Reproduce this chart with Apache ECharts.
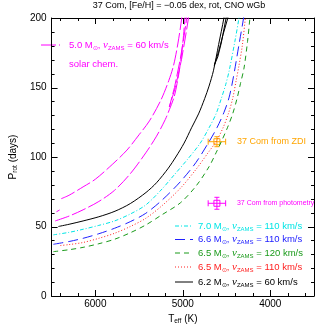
<!DOCTYPE html>
<html><head><meta charset="utf-8">
<script src="https://cdn.jsdelivr.net/npm/echarts@6/dist/echarts.min.js"></script>
<style>html,body{margin:0;padding:0;background:#fff}#c{width:332px;height:332px}</style>
</head><body><div id="c"></div>
<script>
const FONT = '"Liberation Sans", Arial, sans-serif';

// ---- data: [Teff (K), Prot (days)] ----
const black62_60 = [[6423,50],[6300,51.6],[6140,54],[5960,57],[5775,61],[5600,66.5],[5420,74.5],[5300,81.5],[5165,92],[5080,100],[4985,110],[4900,121],[4820,131],[4750,142],[4700,151],[4650,162],[4590,181],[4530,200],[4515,207]];
const black62_60_hook = [[4500,207],[4505,200],[4560,182],[4600,172],[4640,166],[4590,176],[4540,188],[4485,200],[4478,207]];
const cyan70_110 = [[6480,44],[6300,45.8],[6140,48],[5960,50.8],[5780,54],[5600,59],[5423,65.5],[5237,77],[5100,87],[4950,98],[4800,110],[4700,121],[4620,131],[4560,142],[4510,152],[4470,162],[4405,183],[4358,200],[4345,207]];
const blue66_110 = [[6480,37.2],[6300,39.2],[6140,41.5],[5960,44.8],[5781,48.7],[5600,53.5],[5423,59.5],[5237,69],[5028,82.2],[4850,96],[4700,111],[4610,121],[4530,132],[4470,143],[4420,158],[4360,180],[4305,200],[4290,207]];
const green65_120 = [[6480,31.9],[6300,33.3],[6140,35],[5960,37.6],[5781,40.8],[5600,45.5],[5423,51.1],[5237,58.5],[5028,67],[4850,79],[4700,93],[4620,103],[4560,111],[4490,121],[4430,131],[4380,142],[4340,153],[4300,164],[4260,183],[4233,200],[4225,207]];
const red65_110 = [[6400,36.3],[6300,37],[6140,38.5],[5960,41.5],[5781,45.1],[5600,50],[5423,55.9],[5237,65],[5028,77.5],[4850,91],[4700,104],[4620,111],[4540,121],[4480,131],[4430,142],[4390,155],[4360,165],[4320,180],[4285,200],[4275,207]];
const mag50_lower = [[6459,54],[6300,57.5],[6140,62],[5960,68],[5781,76],[5600,88],[5423,103],[5300,115],[5200,127],[5154,134],[5100,143],[5065,153],[5035,164],[5000,182],[4975,200],[4967,207]];
const mag50_upper = [[6390,70],[6300,72.5],[6140,78.5],[6000,84],[5800,95],[5638,105],[5500,116],[5381,126],[5250,141],[5160,155],[5105,166],[5055,182],[5012,200],[5003,207]];
const mag50_hook = [[4945,207],[4955,200],[4985,187],[5030,170],[5095,150],[5154,136],[5085,150],[5015,170],[4968,187],[4935,200],[4925,207]];
const mag50_short = [[6444,60.6],[6408,61.9]];

// observed points: [Teff, Prot, errTeff, errProt]
const obsZDI = [[4610,111,100,3.6]];
const obsPhot = [[4610,66.7,100,4.3]];

// ticks
const xMajor = [4000,5000,6000];
const xMinor = [3600,3800,4200,4400,4600,4800,5200,5400,5600,5800,6200,6400];
const yMajor = [0,50,100,150,200];
const yMinor = [10,20,30,40,60,70,80,90,110,120,130,140,160,170,180,190];

// texts
const titleText = '37 Com, [Fe/H] = \u22120.05 dex, rot, CNO wGb';
const legendMass = ['7.0','6.6','6.5','6.5','6.2'];
const legendV = ['110','110','120','110','60'];
const legendColors = ['#00e5e5','#2020ff','#1a9a1a','#ff2020','#000000'];
const legendDash = [[4,2,1,2],[10,5],[5,4],[1,2],null];
const magLegend = {mass:'5.0', v:'60', note:'solar chem.'};

const XMIN = 3500, XMAX = 6500, YMIN = 0, YMAX = 200;

const chart = echarts.init(document.getElementById('c'), null, {renderer:'canvas'});

const nameRich = {sub:{fontSize:6.5, fontFamily:FONT, color:'#000', lineHeight:6, verticalAlign:'bottom'}, n:{fontSize:10, fontFamily:FONT, color:'#000', lineHeight:12}};

function lineSeries(data, color, dash, smooth){
  return {type:'line', data, xAxisIndex:0, yAxisIndex:0, symbol:'none', showSymbol:false,
    smooth: smooth, clip:true, silent:true, animation:false,
    lineStyle:{color, width:1, type: dash || 'solid'}};
}

// tick marks drawn through the axis scale (inside, on all four sides)
const tickData = [];
xMajor.forEach(v=>tickData.push([0,v,6]));
xMinor.forEach(v=>tickData.push([0,v,3]));
yMajor.forEach(v=>tickData.push([1,v,6]));
yMinor.forEach(v=>tickData.push([1,v,3]));
const tickSeries = {type:'custom', xAxisIndex:0, yAxisIndex:0, data:tickData, silent:true, animation:false, clip:false,
  renderItem(params, api){
    const kind=api.value(0), v=api.value(1), len=api.value(2);
    const st={stroke:'#000', lineWidth:1};
    if (kind===0){
      const b=api.coord([v,YMIN]), t=api.coord([v,YMAX]);
      const x=Math.round(b[0])+0.5;
      return {type:'group', children:[
        {type:'line', shape:{x1:x,y1:b[1],x2:x,y2:b[1]-len}, style:st},
        {type:'line', shape:{x1:x,y1:t[1],x2:x,y2:t[1]+len}, style:st}
      ]};
    } else {
      const l=api.coord([XMAX,v]), r=api.coord([XMIN,v]);
      const y=Math.round(l[1])+0.5;
      return {type:'group', children:[
        {type:'line', shape:{x1:l[0],y1:y,x2:l[0]+len,y2:y}, style:st},
        {type:'line', shape:{x1:r[0],y1:y,x2:r[0]-len,y2:y}, style:st}
      ]};
    }
  }
};

function errSeries(data, color, label, fs){
  return {type:'custom', xAxisIndex:0, yAxisIndex:0, data, silent:true, animation:false, clip:false,
    renderItem(params, api){
      const x=api.value(0), y=api.value(1), ex=api.value(2), ey=api.value(3);
      const c=api.coord([x,y]);
      const l=api.coord([x+ex,y]), r=api.coord([x-ex,y]);
      const t=api.coord([x,y+ey]), b=api.coord([x,y-ey]);
      const st={stroke:color, lineWidth:1, fill:null};
      const s=3;
      return {type:'group', children:[
        {type:'line', shape:{x1:l[0],y1:l[1],x2:r[0],y2:r[1]}, style:st},
        {type:'line', shape:{x1:l[0],y1:l[1]-3,x2:l[0],y2:l[1]+3}, style:st},
        {type:'line', shape:{x1:r[0],y1:r[1]-3,x2:r[0],y2:r[1]+3}, style:st},
        {type:'line', shape:{x1:t[0],y1:t[1],x2:b[0],y2:b[1]}, style:st},
        {type:'line', shape:{x1:t[0]-2.5,y1:t[1],x2:t[0]+2.5,y2:t[1]}, style:st},
        {type:'line', shape:{x1:b[0]-2.5,y1:b[1],x2:b[0]+2.5,y2:b[1]}, style:st},
        {type:'rect', shape:{x:c[0]-s,y:c[1]-s,width:2*s,height:2*s}, style:st},
        {type:'text', x:c[0]+20, y:c[1], style:{text:label, fill:color, font: fs+'px '+FONT, align:'left', verticalAlign:'middle'}}
      ]};
    }
  };
}

function richFor(color){
  return {
    n:{fontSize:9.5, fontFamily:FONT, fill:color, lineHeight:12},
    s:{fontSize:6, fontFamily:FONT, fill:color, lineHeight:6, verticalAlign:'bottom'},
    v:{fontSize:11, fontFamily:'"Liberation Serif", serif', fontStyle:'italic', fill:color, lineHeight:12}
  };
}
function legText(x, y, mass, v, color){
  return {type:'text', x, y, silent:true, style:{text:`{n|${mass} M}{s|\u2299}{n|, }{v|v}{s|ZAMS}{n| = ${v} km/s}`, rich:richFor(color), fill:color, align:'left', verticalAlign:'middle'}};
}

const graphics = [
  {type:'text', x:179, y:6, silent:true, style:{text:titleText, fill:'#000', font:'9px '+FONT, align:'center', verticalAlign:'middle'}},
  {type:'line', silent:true, shape:{x1:41,y1:45,x2:60,y2:45}, style:{stroke:'#ff00ff', lineWidth:1, lineDash:[15,3]}},
  legText(69, 45, magLegend.mass, magLegend.v, '#ff00ff'),
  {type:'text', x:69, y:64, silent:true, style:{text:magLegend.note, fill:'#ff00ff', font:'9.5px '+FONT, align:'left', verticalAlign:'middle'}}
];
const legY = [226, 239.5, 253, 267, 282];
for (let i=0;i<5;i++){
  graphics.push({type:'line', silent:true, shape:{x1:175,y1:legY[i],x2:193,y2:legY[i]}, style:{stroke:legendColors[i], lineWidth:1, lineDash:legendDash[i]||null}});
  graphics.push(legText(198, legY[i], legendMass[i], legendV[i], legendColors[i]));
}

chart.setOption({
  animation:false,
  backgroundColor:'#fff',
  grid:{left:36, right:18, top:18, bottom:36, containLabel:false},
  xAxis:[{type:'value', min:XMIN, max:XMAX, inverse:true, position:'bottom',
    axisLine:{show:true, onZero:false, lineStyle:{color:'#000', width:1}},
    axisTick:{show:false},
    axisLabel:{show:true, customValues:xMajor, formatter:v=>String(v), color:'#000', fontSize:10, fontFamily:FONT, margin:3},
    splitLine:{show:false},
    name:'{n|T}{sub|eff}{n| (K)}', nameLocation:'middle', nameGap:13, nameTextStyle:{rich:nameRich}
  },{type:'value', min:XMIN, max:XMAX, inverse:true, position:'top',
    axisLine:{show:true, onZero:false, lineStyle:{color:'#000', width:1}},
    axisTick:{show:false}, axisLabel:{show:false}, splitLine:{show:false}}],
  yAxis:[{type:'value', min:YMIN, max:YMAX, position:'left',
    axisLine:{show:true, onZero:false, lineStyle:{color:'#000', width:1}},
    axisTick:{show:false},
    axisLabel:{show:true, customValues:yMajor, formatter:v=>String(v), color:'#000', fontSize:10, fontFamily:FONT, margin:5},
    splitLine:{show:false},
    name:'{n|P}{sub|rot}{n| (days)}', nameLocation:'middle', nameGap:23, nameTextStyle:{rich:nameRich}
  },{type:'value', min:YMIN, max:YMAX, position:'right',
    axisLine:{show:true, onZero:false, lineStyle:{color:'#000', width:1}},
    axisTick:{show:false}, axisLabel:{show:false}, splitLine:{show:false}}],
  series:[
    lineSeries(mag50_lower, '#ff00ff', [15,3], 0.3),
    lineSeries(mag50_upper, '#ff00ff', [15,3], 0.3),
    lineSeries(mag50_hook, '#ff00ff', [15,3], false),
    lineSeries(mag50_short, '#ff00ff', [15,3], false),
    lineSeries(black62_60, '#000000', 'solid', 0.3),
    lineSeries(black62_60_hook, '#000000', 'solid', false),
    lineSeries(cyan70_110, legendColors[0], legendDash[0], 0.3),
    lineSeries(blue66_110, legendColors[1], legendDash[1], 0.3),
    lineSeries(green65_120, legendColors[2], legendDash[2], 0.3),
    lineSeries(red65_110, legendColors[3], legendDash[3], 0.3),
    tickSeries,
    errSeries(obsZDI, '#ffa500', '37 Com from ZDI', 9),
    errSeries(obsPhot, '#ff00ff', '37 Com from photometry', 7)
  ],
  graphic: graphics
});
</script></body></html>
